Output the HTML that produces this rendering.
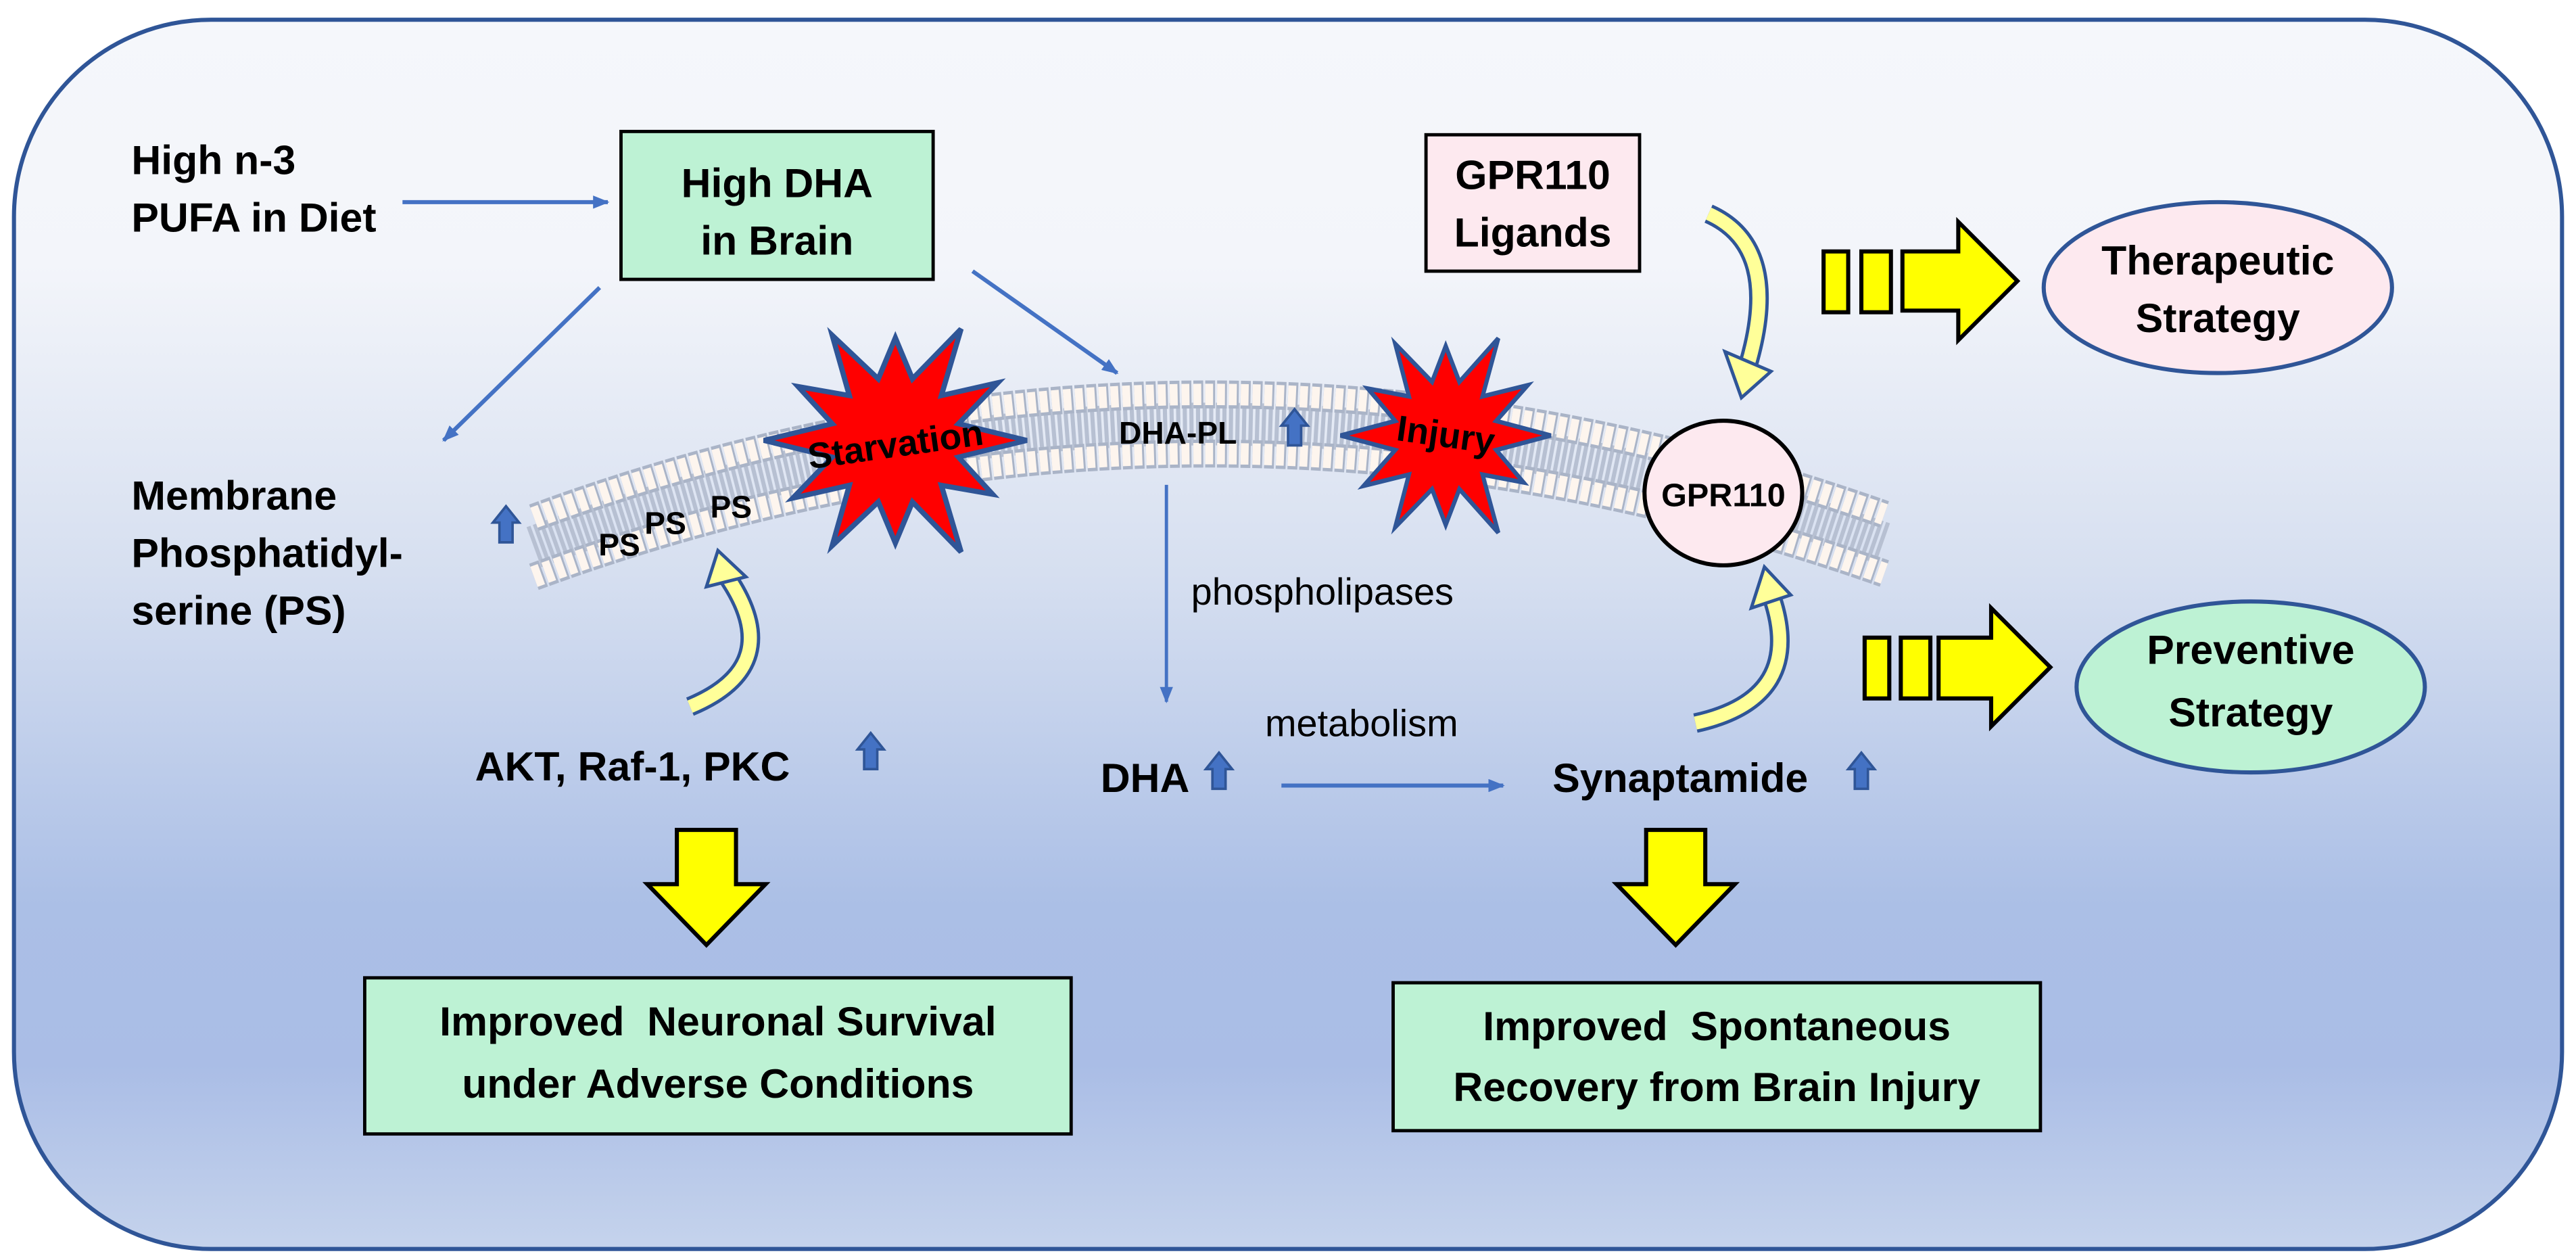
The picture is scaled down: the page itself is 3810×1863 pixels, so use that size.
<!DOCTYPE html>
<html><head><meta charset="utf-8"><style>
html,body{margin:0;padding:0;background:#fff;}
svg{display:block;}
text{font-family:"Liberation Sans",sans-serif;}
.b{font-weight:bold;font-size:25px;fill:#000;}
.n{font-size:23px;fill:#000;}
</style></head><body>
<svg width="3810" height="1863" viewBox="0 0 1568 766.7" preserveAspectRatio="none" xmlns="http://www.w3.org/2000/svg">
<defs>
<linearGradient id="bg" x1="0" y1="0" x2="0" y2="1">
<stop offset="0" stop-color="#f5f7fb"/>
<stop offset="0.2" stop-color="#f3f5fa"/>
<stop offset="0.45" stop-color="#d6dff0"/>
<stop offset="0.72" stop-color="#abbfe6"/>
<stop offset="0.85" stop-color="#aabde6"/>
<stop offset="1" stop-color="#c5d3ec"/>
</linearGradient>
<marker id="ah" markerWidth="10" markerHeight="8" refX="9" refY="4" orient="auto" markerUnits="userSpaceOnUse">
<path d="M0,0 L10,4 L0,8 Z" fill="#4472c4"/>
</marker>
<g id="up"><path d="M-4,10 L-4,-2 L-8,-2 L0,-12 L8,-2 L4,-2 L4,10 Z" fill="#4472c4" stroke="#2f5597" stroke-width="1.5"/></g>
<polygon id="star" points="100,0 48,13 74,42 35,35 50,87 13,48 0,80 -13,48 -48,82 -35,35 -78,45 -48,13 -100,0 -48,-13 -74,-42 -35,-35 -48,-82 -13,-48 0,-80 13,-48 50,-87 35,-35 78,-45 48,-13" fill="#ff0000" stroke="#2f5597" stroke-width="4"/>
</defs>
<rect x="8.5" y="12" width="1551" height="748" rx="120" ry="120" fill="url(#bg)" stroke="#2f5597" stroke-width="2.5"/>

<!-- membrane -->
<path d="M325,333 Q730,184 1147,331" fill="none" stroke="#b7c0d2" stroke-width="26" stroke-dasharray="2.5 1.5"/>
<path d="M325,315 Q730,166 1147,313" fill="none" stroke="#aab4c7" stroke-width="17" stroke-dasharray="6 1.2"/>
<path d="M325,315 Q730,166 1147,313" fill="none" stroke="#fdf5ee" stroke-width="13" stroke-dasharray="4.8 2.4"/>
<path d="M325,351 Q730,202 1147,349" fill="none" stroke="#aab4c7" stroke-width="17" stroke-dasharray="6 1.2"/>
<path d="M325,351 Q730,202 1147,349" fill="none" stroke="#fdf5ee" stroke-width="13" stroke-dasharray="4.8 2.4"/>

<!-- left texts -->
<text class="b" x="80" y="106">High n-3</text>
<text class="b" x="80" y="141">PUFA in Diet</text>
<text class="b" x="80" y="310">Membrane</text>
<text class="b" x="80" y="345">Phosphatidyl-</text>
<text class="b" x="80" y="380">serine (PS)</text>

<!-- arrows -->
<line x1="245" y1="123" x2="370" y2="123" stroke="#4472c4" stroke-width="2.5" marker-end="url(#ah)"/>
<line x1="365" y1="175" x2="270" y2="268" stroke="#4472c4" stroke-width="2.5" marker-end="url(#ah)"/>
<line x1="592" y1="165" x2="680" y2="227" stroke="#4472c4" stroke-width="2.5" marker-end="url(#ah)"/>
<line x1="710" y1="295" x2="710" y2="427" stroke="#4472c4" stroke-width="2" marker-end="url(#ah)"/>
<line x1="780" y1="478" x2="915" y2="478" stroke="#4472c4" stroke-width="2.5" marker-end="url(#ah)"/>

<!-- High DHA box -->
<rect x="378" y="80" width="190" height="90" fill="#bdf2d4" stroke="#000" stroke-width="2"/>
<text class="b" x="473" y="120" text-anchor="middle">High DHA</text>
<text class="b" x="473" y="155" text-anchor="middle">in Brain</text>

<!-- GPR110 Ligands -->
<rect x="868" y="82" width="130" height="83" fill="#fde9ef" stroke="#000" stroke-width="2"/>
<text class="b" x="933" y="115" text-anchor="middle">GPR110</text>
<text class="b" x="933" y="150" text-anchor="middle">Ligands</text>

<!-- stars -->
<use href="#star" transform="translate(545,268) scale(0.8,0.78)"/>
<text class="b" x="545" y="278" text-anchor="middle" fill="#222" transform="rotate(-8 545 270)" style="font-size:22px">Starvation</text>
<use href="#star" transform="translate(880,265) scale(0.64,0.68)"/>
<text class="b" x="880" y="272" text-anchor="middle" transform="rotate(8 880 265)" style="font-size:22px">Injury</text>

<text class="b" x="717" y="270" text-anchor="middle" style="font-size:19px">DHA-PL</text>
<use href="#up" transform="translate(788,261)"/>

<text class="b" x="377" y="338" text-anchor="middle" style="font-size:19px">PS</text>
<text class="b" x="405" y="325" text-anchor="middle" style="font-size:19px">PS</text>
<text class="b" x="445" y="315" text-anchor="middle" style="font-size:19px">PS</text>
<use href="#up" transform="translate(308,320)"/>

<!-- GPR110 receptor -->
<ellipse cx="1049" cy="300" rx="48" ry="44" fill="#fde9ef" stroke="#000" stroke-width="2.5"/>
<text class="b" x="1049" y="308" text-anchor="middle" style="font-size:20px">GPR110</text>

<!-- curved yellow arrows -->
<g fill="none" stroke-linecap="butt">
<path d="M1040,130 Q1085,150 1064,222" stroke="#2f5597" stroke-width="12"/>
<path d="M1040,130 Q1085,150 1064,222" stroke="#ffff99" stroke-width="8"/>
<path d="M1032,440 Q1100,425 1078,362" stroke="#2f5597" stroke-width="12"/>
<path d="M1032,440 Q1100,425 1078,362" stroke="#ffff99" stroke-width="8"/>
<path d="M420,430 Q480,405 442,350" stroke="#2f5597" stroke-width="12"/>
<path d="M420,430 Q480,405 442,350" stroke="#ffff99" stroke-width="8"/>
</g>
<polygon points="1050,214 1078,226 1060,242" fill="#ffff99" stroke="#2f5597" stroke-width="2"/>
<polygon points="1066,370 1090,362 1074,345" fill="#ffff99" stroke="#2f5597" stroke-width="2"/>
<polygon points="430,357 454,351 437,335" fill="#ffff99" stroke="#2f5597" stroke-width="2"/>

<!-- block arrows -->
<g fill="#ffff00" stroke="#000" stroke-width="2.5">
<rect x="1110" y="153" width="15" height="37"/>
<rect x="1133" y="153" width="18" height="37"/>
<polygon points="1158,153 1192,153 1192,135 1228,171 1192,207 1192,189 1158,189"/>
<rect x="1135" y="388" width="15" height="37"/>
<rect x="1157" y="388" width="18" height="37"/>
<polygon points="1180,388 1212,388 1212,370 1248,406 1212,442 1212,425 1180,425"/>
<polygon points="412,505 448,505 448,538 466,538 430,575 394,538 412,538"/>
<polygon points="1002,505 1038,505 1038,538 1056,538 1020,575 984,538 1002,538"/>
</g>
<ellipse cx="1350" cy="175" rx="106" ry="52" fill="#fde9ef" stroke="#2f5597" stroke-width="2.5"/>
<text class="b" x="1350" y="167" text-anchor="middle">Therapeutic</text>
<text class="b" x="1350" y="202" text-anchor="middle">Strategy</text>
<ellipse cx="1370" cy="418" rx="106" ry="52" fill="#bdf2d4" stroke="#2f5597" stroke-width="2.5"/>
<text class="b" x="1370" y="404" text-anchor="middle">Preventive</text>
<text class="b" x="1370" y="442" text-anchor="middle">Strategy</text>

<!-- middle texts -->
<text class="n" x="725" y="368">phospholipases</text>
<text class="n" x="770" y="448">metabolism</text>
<text class="b" x="385" y="475" text-anchor="middle">AKT, Raf-1, PKC</text>
<use href="#up" transform="translate(530,458)"/>
<text class="b" x="697" y="482" text-anchor="middle">DHA</text>
<use href="#up" transform="translate(742,470)"/>
<text class="b" x="945" y="482">Synaptamide</text>
<use href="#up" transform="translate(1133,470)"/>

<!-- bottom boxes -->
<rect x="222" y="595" width="430" height="95" fill="#bdf2d4" stroke="#000" stroke-width="2"/>
<text class="b" x="437" y="630" text-anchor="middle" xml:space="preserve">Improved  Neuronal Survival</text>
<text class="b" x="437" y="668" text-anchor="middle">under Adverse Conditions</text>
<rect x="848" y="598" width="394" height="90" fill="#bdf2d4" stroke="#000" stroke-width="2"/>
<text class="b" x="1045" y="633" text-anchor="middle" xml:space="preserve">Improved  Spontaneous</text>
<text class="b" x="1045" y="670" text-anchor="middle">Recovery from Brain Injury</text>
</svg>
</body></html>
